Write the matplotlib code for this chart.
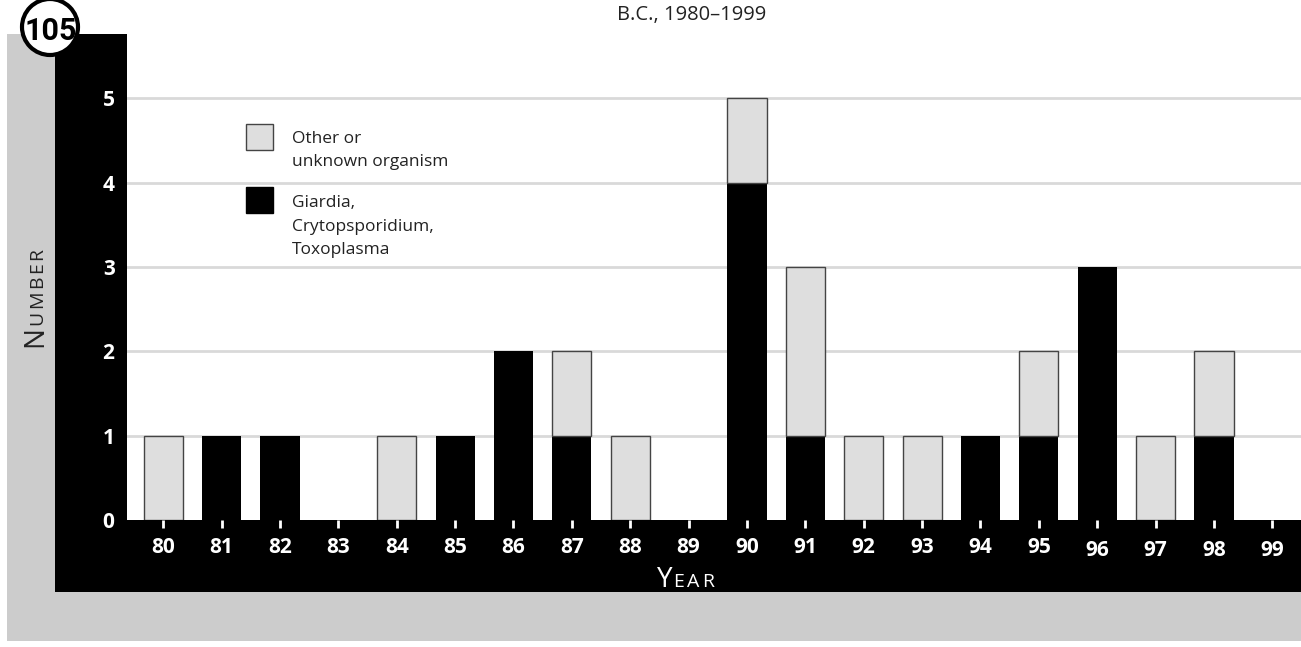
import matplotlib.pyplot as plt
from matplotlib.patches import Rectangle, Circle
from matplotlib.transforms import ScaledTranslation

# data
years = ['80', '81', '82', '83', '84', '85', '86', '87', '88', '89',
         '90', '91', '92', '93', '94', '95', '96', '97', '98', '99']
giardia = [0, 1, 1, 0, 0, 1, 2, 1, 0, 0, 4, 1, 0, 0, 1, 1, 3, 0, 1, 0]
other = [1, 0, 0, 0, 1, 0, 0, 1, 1, 0, 1, 2, 1, 1, 0, 1, 0, 1, 1, 0]
yticks = [0, 1, 2, 3, 4, 5]
legend_labels = ['Other or\nunknown organism', 'Giardia,\nCrytopsporidium,\nToxoplasma']

W, H = 1301, 647
FONT = ['Open Sans', 'DejaVu Sans']
plt.rcParams['font.family'] = FONT


def fx(x):
    return x / W


def fy(y):
    return 1 - y / H


fig = plt.figure(figsize=(W / 100, H / 100), dpi=100)
fig.patch.set_facecolor('white')

# grey panel and black L frame behind the plot
fig.add_artist(Rectangle((fx(7), fy(641)), fx(W) - fx(7), (641 - 34) / H,
                         transform=fig.transFigure, facecolor='#cccccc', edgecolor='none', zorder=0))
fig.add_artist(Rectangle((fx(55), fy(592)), fx(W) - fx(55), (592 - 34) / H,
                         transform=fig.transFigure, facecolor='black', edgecolor='none', zorder=0))

ax = fig.add_axes([fx(127), fy(520), fx(W) - fx(127), (520 - 34) / H])
ax.set_facecolor('white')

x = list(range(len(years)))
bw = 0.67
xb = [i for i in x if giardia[i] > 0]
ax.bar(xb, [giardia[i] for i in xb], width=bw, color='black', edgecolor='black', linewidth=0, zorder=2)
xo = [i for i in x if other[i] > 0]
ax.bar(xo, [other[i] for i in xo], bottom=[giardia[i] for i in xo], width=bw,
       color='#dedede', edgecolor='#444444', linewidth=1, zorder=2)

ax.set_xlim(-0.62, 19.49)
ax.set_ylim(0, 5.76)
ax.set_xticks(x)
ax.set_xticklabels(years)
ax.set_yticks(yticks)
ax.set_yticklabels([str(v) for v in yticks])
ax.tick_params(axis='x', direction='out', length=6, width=2, color='white',
               labelcolor='white', labelsize=15, pad=6)
ax.tick_params(axis='y', length=0, labelcolor='white', labelsize=15, pad=9)
for lab in ax.get_xticklabels() + ax.get_yticklabels():
    lab.set_fontweight('bold')
# the last few year labels sit a little lower in the original
for lab in ax.get_xticklabels()[16:]:
    lab.set_transform(lab.get_transform() + ScaledTranslation(0, -3.5 / 100, fig.dpi_scale_trans))
ax.set_axisbelow(True)
ax.yaxis.grid(True, color='#d9d9d9', linewidth=2)
ax.get_ygridlines()[0].set_visible(False)
for s in ax.spines.values():
    s.set_visible(False)

# legend drawn by hand
fig.add_artist(Rectangle((fx(246), fy(150)), 27 / W, 26 / H, transform=fig.transFigure,
                         facecolor='#dedede', edgecolor='#444444', linewidth=1))
fig.add_artist(Rectangle((fx(246), fy(213)), 27 / W, 26 / H, transform=fig.transFigure,
                         facecolor='black', edgecolor='black', linewidth=1))
for label, base in zip(legend_labels, [143, 207]):
    for k, line in enumerate(label.split('\n')):
        fig.text(fx(292), fy(base + 23.5 * k), line, fontsize=12.5, color='#222222',
                 va='baseline', ha='left')

# title
fig.text(fx(692), fy(20), 'B.C., 1980\u20131999', fontsize=14.5, color='#222222',
         ha='center', va='baseline')

renderer = fig.canvas.get_renderer()


def small_caps(x0, y0, big, rest, color, rotation):
    t = fig.text(fx(x0), fy(y0), big, fontsize=20, color=color, rotation=rotation,
                 rotation_mode='anchor', ha='left', va='baseline')
    bb = t.get_window_extent(renderer)
    step = bb.width if rotation == 0 else bb.height
    # wide letter spacing, one letter at a time
    pos = step + 1
    for ch in rest:
        if rotation == 0:
            tt = fig.text(fx(x0 + pos), fy(y0), ch, fontsize=14, color=color,
                          ha='left', va='baseline')
            pos += tt.get_window_extent(renderer).width + 2.5
        else:
            tt = fig.text(fx(x0), fy(y0 - pos), ch, fontsize=14, color=color, rotation=90,
                          rotation_mode='anchor', ha='left', va='baseline')
            pos += tt.get_window_extent(renderer).height + 2.5


small_caps(657, 587, 'Y', 'EAR', 'white', 0)
small_caps(42, 347, 'N', 'UMBER', '#222222', 90)

# chart number badge
fig.add_artist(Circle((50 / 100, (H - 27) / 100), 0.28, transform=fig.dpi_scale_trans,
                      facecolor='white', edgecolor='black', linewidth=3, zorder=5))
fig.text(fx(51), fy(31), '105', fontsize=22, fontweight='bold', family=['Roboto', 'DejaVu Sans'],
         color='black', ha='center', va='center', zorder=6)

fig.savefig('out.png', dpi=100)
